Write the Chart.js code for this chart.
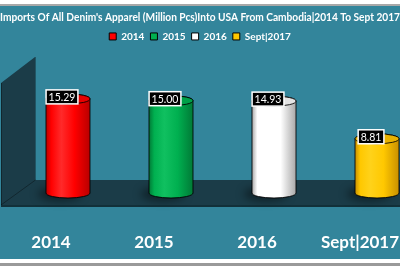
<!DOCTYPE html>
<html>
<head>
<meta charset="utf-8">
<script src="https://cdn.jsdelivr.net/npm/chart.js@4"></script>
<style>
  html, body { margin: 0; padding: 0; background: #fff; overflow: hidden; }
</style>
</head>
<body>
<canvas id="myChart" width="400" height="266"></canvas>
<script>
const categories = ['2014', '2015', '2016', 'Sept|2017'];
const values = [15.29, 15.00, 14.93, 8.81];
const chartTitle = "Imports Of All Denim's Apparel (Million Pcs)Into USA From Cambodia|2014 To Sept 2017";

// colours for each cylinder: main, light (highlight), dark (edge), top cap
const colors = [
  { main: '#ff0000', light: '#ff2a2a', dark: '#b80000', top: '#e80000' },
  { main: '#00b050', light: '#10c060', dark: '#007a36', top: '#00a048' },
  { main: '#ffffff', light: '#ffffff', dark: '#a8a8a8', top: '#e4e4e4' },
  { main: '#ffc800', light: '#ffd21a', dark: '#c89000', top: '#e8b200' }
];

const TEAL = '#33859b';
const FLOOR = '#1b3c48';

const ctx = document.getElementById('myChart');

const datasets = categories.map((c, i) => ({
  label: c,
  data: [{ x: i, y: values[i] }],
  backgroundColor: colors[i].main,
  borderColor: '#000',
  borderWidth: 1,
  barThickness: 44,
  grouped: false
}));

const frame = {
  id: 'frame',
  beforeDraw(chart) {
    const c = chart.ctx, w = chart.width, h = chart.height;
    c.save();
    c.fillStyle = '#fff';
    c.fillRect(0, 0, w, h);
    c.fillStyle = '#a8a8a8';
    c.fillRect(0, 4, w, 2);
    c.fillStyle = TEAL;
    c.fillRect(0, 6, w, h - 13);
    c.fillStyle = '#9a9a9a';
    c.fillRect(0, h - 3, w, 3);
    // floor and wall, placed from the scales
    const area = chart.chartArea;
    const y0 = chart.scales.y.getPixelForValue(0);
    const l = area.left + 1, wl = area.left + 35;
    c.fillStyle = FLOOR;
    c.beginPath();
    c.moveTo(l, y0 + 12);
    c.lineTo(l, y0 - 110);
    c.lineTo(wl, y0 - 136);
    c.lineTo(wl, y0 - 13);
    c.lineTo(area.right + 20, y0 - 13);
    c.lineTo(area.right + 20, y0 + 12);
    c.closePath();
    c.fill();
    c.fillStyle = '#123039';
    c.fillRect(l, y0 + 12, area.right - l + 20, 2);
    c.strokeStyle = 'rgba(0,0,0,0.35)';
    c.lineWidth = 1;
    c.beginPath();
    c.moveTo(l + 0.5, y0 + 12);
    c.lineTo(l + 0.5, y0 - 110);
    c.moveTo(wl + 0.5, y0 - 136);
    c.lineTo(wl + 0.5, y0 - 13);
    c.lineTo(l, y0 + 12);
    c.stroke();
    c.restore();
  }
};

function drawCylinder(c, x, top, base, w, col) {
  const rx = w / 2, ry = 5;
  c.save();
  c.fillStyle = 'rgba(0,0,0,0.45)';
  c.filter = 'blur(4px)';
  c.beginPath();
  c.ellipse(x - 8, base + 1, rx, ry + 2, 0, 0, Math.PI * 2);
  c.fill();
  c.restore();

  c.save();
  const g = c.createLinearGradient(x - rx, 0, x + rx, 0);
  g.addColorStop(0, col.dark);
  g.addColorStop(0.12, col.main);
  g.addColorStop(0.35, col.light);
  g.addColorStop(0.65, col.main);
  g.addColorStop(1, col.dark);
  c.fillStyle = g;
  c.strokeStyle = 'rgba(0,0,0,0.85)';
  c.lineWidth = 1;
  c.beginPath();
  c.moveTo(x - rx, top);
  c.lineTo(x - rx, base);
  c.ellipse(x, base, rx, ry, 0, Math.PI, 0, true);
  c.lineTo(x + rx, top);
  c.ellipse(x, top, rx, ry, 0, 0, Math.PI, true);
  c.closePath();
  c.fill();
  c.stroke();
  c.fillStyle = col.top;
  c.beginPath();
  c.ellipse(x, top, rx, ry, 0, 0, Math.PI * 2);
  c.fill();
  c.stroke();
  c.restore();
}

const cylinders = {
  id: 'cylinders',
  beforeDatasetsDraw(chart) {
    const c = chart.ctx;
    const bars = [];
    chart.data.datasets.forEach((ds, i) => {
      chart.getDatasetMeta(i).data.forEach((el, j) => {
        bars.push({ el, col: colors[i], v: ds.data[j].y });
      });
    });
    bars.forEach(b => drawCylinder(c, b.el.x, b.el.y, b.el.base, b.el.width, b.col));
    // value labels
    c.save();
    c.font = '10.5px Lato';
    c.textAlign = 'center';
    c.textBaseline = 'middle';
    bars.forEach(b => {
      const txt = b.v.toFixed(2);
      const tw = c.measureText(txt).width;
      const bx = b.el.x - 6, by = b.el.y - 2;
      const bw = tw + 5, bh = 14;
      c.fillStyle = '#000';
      c.fillRect(bx - bw / 2, by - bh / 2, bw, bh);
      c.strokeStyle = '#fff';
      c.lineWidth = 1.5;
      c.strokeRect(bx - bw / 2, by - bh / 2, bw, bh);
      c.fillStyle = '#fff';
      c.fillText(txt, bx, by + 0.5);
    });
    c.restore();
    return false;
  }
};

const config = {
  type: 'bar',
  data: { datasets: datasets },
  plugins: [frame, cylinders],
  options: {
    responsive: false,
    devicePixelRatio: 1,
    animation: false,
    layout: { padding: { top: 6, left: 0, right: 0, bottom: 12 } },
    plugins: {
      title: {
        display: true,
        text: chartTitle,
        color: '#fff',
        font: { family: 'Lato', size: 11.2, weight: 'bold' },
        padding: { top: 5, bottom: 1 }
      },
      legend: {
        position: 'top',
        labels: {
          color: '#fff',
          boxWidth: 7,
          boxHeight: 7,
          padding: 6,
          font: { family: 'Lato', size: 10, weight: 'bold' }
        }
      },
      tooltip: { enabled: false }
    },
    scales: {
      x: {
        type: 'linear',
        offset: false,
        min: -0.66,
        max: 3.223,
        grid: { display: false, drawTicks: false },
        border: { display: false },
        afterBuildTicks(scale) {
          scale.ticks = [scale.min, 0, 1, 2, 3, scale.max].map(v => ({ value: v }));
        },
        afterFit(scale) {
          scale.paddingLeft = 0;
          scale.paddingRight = 0;
          scale.height = 61;
        },
        ticks: {
          autoSkip: false,
          maxRotation: 0,
          labelOffset: -17,
          padding: 39,
          color: '#fff',
          font: { family: 'Lato', size: 17, weight: 'bold' },
          callback: v => Number.isInteger(v) ? categories[v] : ''
        }
      },
      y: {
        display: false,
        min: 0,
        max: 23
      }
    }
  }
};

const myChart = new Chart(ctx, config);
</script>
</body>
</html>
